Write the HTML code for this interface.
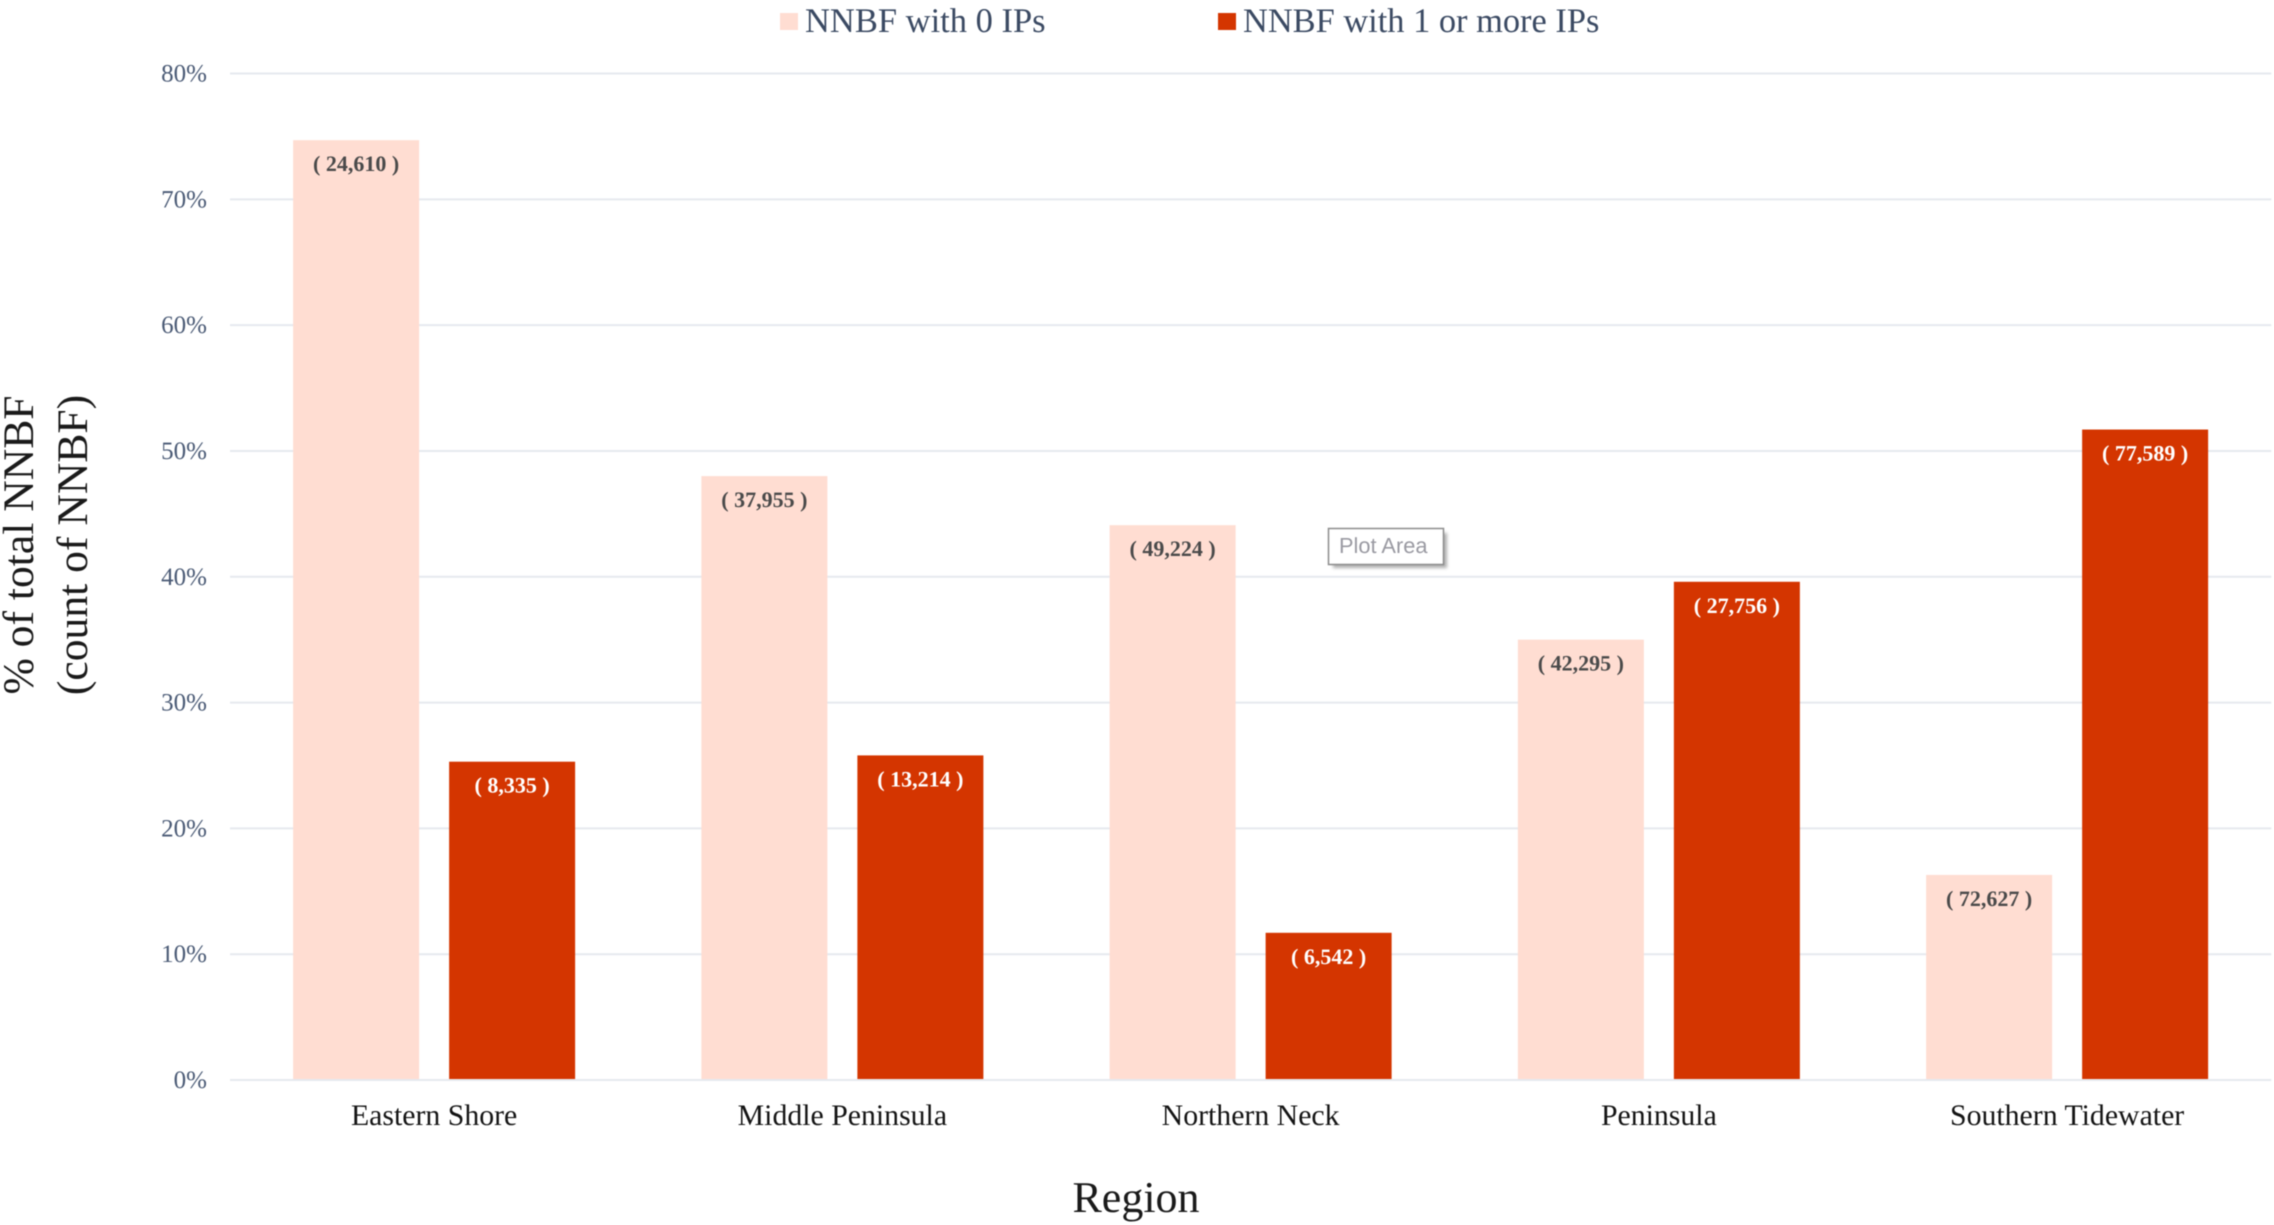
<!DOCTYPE html>
<html lang="en">
<head>
<meta charset="utf-8">
<title>NNBF by region</title>
<style>
html,body{margin:0;padding:0;background:#fff;overflow:hidden;}
svg{display:block;font-family:"Liberation Serif",serif;text-rendering:geometricPrecision;filter:blur(0.5px);}
</style>
</head>
<body>
<svg id="chart" xmlns="http://www.w3.org/2000/svg" width="2274" height="1225" viewBox="0 0 2274 1225">
  <rect x="0" y="0" width="2274" height="1225" fill="#ffffff"/>
  <g id="grid"></g>
  <g id="y-ticks"></g>
  <g id="bars"></g>
  <g id="x-ticks"></g>

  <g>
    <g>
      <rect x="780" y="13" width="18" height="17" fill="#FFDDD2"/>
      <text x="805" y="32" font-size="34.5" fill="#3b4a63">NNBF with 0 IPs</text>
    </g>
    <g>
      <rect x="1218" y="13" width="18" height="17" fill="#D43500"/>
      <text x="1243" y="32" font-size="34.4" fill="#3b4a63">NNBF with 1 or more IPs</text>
    </g>
  </g>

  <g font-size="43.6" fill="#1a1a1a" text-anchor="middle">
    <text transform="translate(33,545) rotate(-90)">% of total NNBF</text>
    <text transform="translate(87,545) rotate(-90)">(count of NNBF)</text>
  </g>
  <text x="1136" y="1212" font-size="44" fill="#1a1a1a" text-anchor="middle">Region</text>

  <g>
    <rect x="1333" y="533" width="114" height="35" fill="#b0b0b0" style="filter:blur(1.5px)"/>
    <rect x="1328.5" y="528.5" width="115" height="36" fill="#ffffff" stroke="#8c8c8c" stroke-width="1.5"/>
    <text x="1339" y="553" font-size="21.8" fill="#9a9aa2" style="font-family:'Liberation Sans',sans-serif">Plot Area</text>
  </g>
</svg>

<script>
const categories = ["Eastern Shore", "Middle Peninsula", "Northern Neck", "Peninsula", "Southern Tidewater"];
const zeroIpShare = [74.7, 48.0, 44.1, 35.0, 16.3];
const oneIpShare = [25.3, 25.8, 11.7, 39.6, 51.7];
const zeroIpCounts = ["24,610", "37,955", "49,224", "42,295", "72,627"];
const oneIpCounts = ["8,335", "13,214", "6,542", "27,756", "77,589"];
const yTickValues = [0, 10, 20, 30, 40, 50, 60, 70, 80];

const SVG_NS = "http://www.w3.org/2000/svg";
const plot = { left: 230, right: 2271.25, top: 73.5, bottom: 1080, yMax: 80 };
const barWidth = 126;
const barGap = 30;

function yScale(v) {
  return plot.bottom - (v / plot.yMax) * (plot.bottom - plot.top);
}
function xBandCenter(i) {
  const band = (plot.right - plot.left) / categories.length;
  return plot.left + band * (i + 0.5);
}
function shape(tag, parent, props) {
  const el = document.createElementNS(SVG_NS, tag);
  Object.keys(props).forEach(function (k) { el.setAttribute(k, props[k]); });
  parent.appendChild(el);
  return el;
}

const gridGroup = document.getElementById("grid");
const yTickGroup = document.getElementById("y-ticks");
const barGroup = document.getElementById("bars");
const xTickGroup = document.getElementById("x-ticks");

yTickValues.forEach(function (v) {
  const line = shape("line", gridGroup, { x1: plot.left, x2: plot.right, y1: yScale(v), y2: yScale(v), stroke: "#e6e9ef", "stroke-width": 2 });
  
  
  const label = shape("text", yTickGroup, { x: 207, y: yScale(v) + 8, "font-size": 25, fill: "#4a5a75", "text-anchor": "end" });
  label.textContent = v + "%";
  
  
});

function drawBar(i, value, count, offset, fillColor, textColor, seriesKey) {
  const cx = xBandCenter(i) + offset;
  const top = yScale(value);
  const bar = shape("rect", barGroup, { x: cx - barWidth / 2, y: top, width: barWidth, height: plot.bottom - 1 - top, fill: fillColor });
  
  
  const label = shape("text", barGroup, { x: cx, y: top + 31, "font-size": 22, "font-weight": "bold", fill: textColor, "text-anchor": "middle" });
  label.textContent = "( " + count + " )";
  
  
}

categories.forEach(function (name, i) {
  const shift = (barWidth + barGap) / 2;
  drawBar(i, zeroIpShare[i], zeroIpCounts[i], -shift, "#FFDDD2", "#4a4a4a", "zero-ips");
  drawBar(i, oneIpShare[i], oneIpCounts[i], shift, "#D43500", "#ffffff", "one-or-more-ips");
  const label = shape("text", xTickGroup, { x: xBandCenter(i), y: 1125, "font-size": 29.8, fill: "#141414", "text-anchor": "middle" });
  label.textContent = name;
  
  
});
</script>
</body>
</html>
